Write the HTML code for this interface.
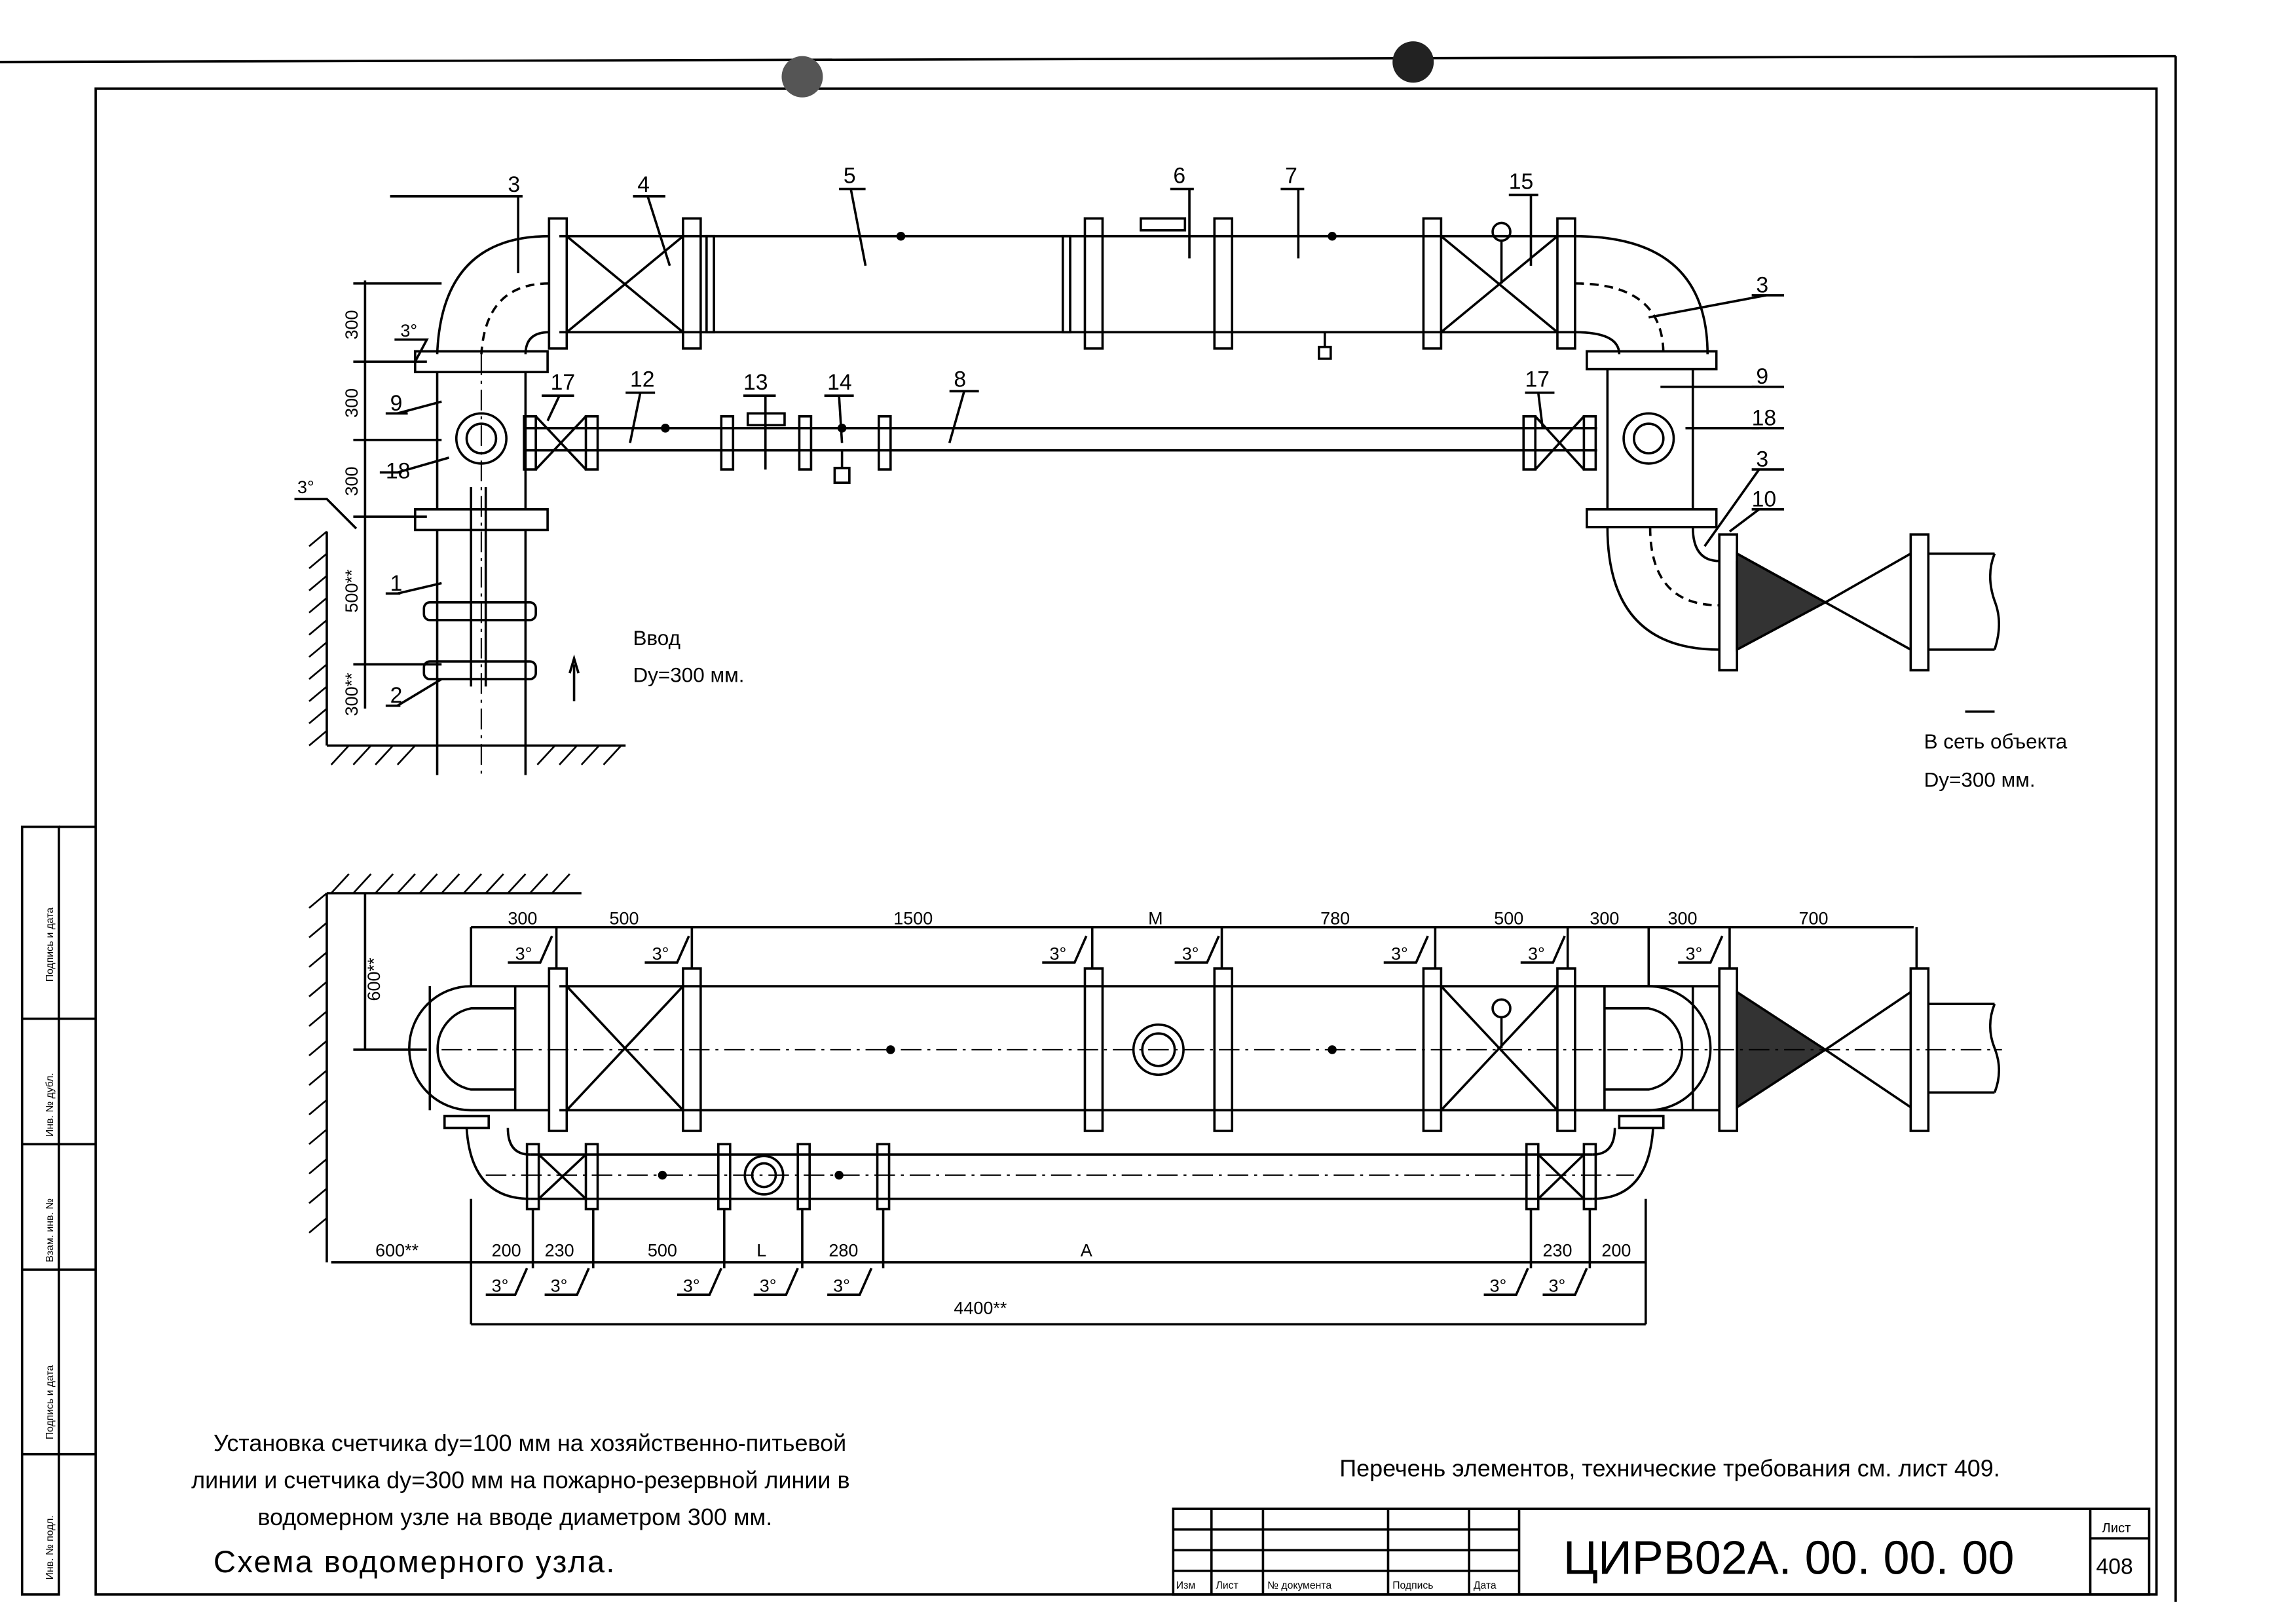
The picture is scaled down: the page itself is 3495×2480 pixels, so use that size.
<!DOCTYPE html>
<html><head><meta charset="utf-8"><style>
html,body{margin:0;padding:0;background:#fff;}
svg{display:block;}
text{font-family:"Liberation Sans","Noto Sans CJK SC",sans-serif;fill:#000;}
</style></head><body>
<svg width="3495" height="2480" viewBox="0 0 1555 1100" preserveAspectRatio="none" xmlns="http://www.w3.org/2000/svg">
<rect x="0" y="0" width="1555" height="1100" fill="#fff"/>
<g fill="none" stroke="#000" stroke-width="1.6">
<!-- frame -->
<line x1="0" y1="42" x2="1478" y2="38"/>
<line x1="1478" y1="38" x2="1478" y2="1085"/>
<rect x="65" y="60" width="1400" height="1020"/>
<rect x="15" y="560" width="25" height="520"/>
<line x1="40" y1="560" x2="65" y2="560"/>
<line x1="15" y1="690" x2="65" y2="690"/><line x1="15" y1="775" x2="65" y2="775"/><line x1="15" y1="860" x2="65" y2="860"/><line x1="15" y1="985" x2="65" y2="985"/>
<!-- ============ TOP DIAGRAM ============ -->
<!-- main pipe -->
<line x1="380" y1="160" x2="1070" y2="160"/><line x1="380" y1="225" x2="1070" y2="225"/>
<!-- flanges -->
<rect x="373" y="148" width="12" height="88"/><rect x="464" y="148" width="12" height="88"/>
<rect x="737" y="148" width="12" height="88"/><rect x="825" y="148" width="12" height="88"/>
<rect x="967" y="148" width="12" height="88"/><rect x="1058" y="148" width="12" height="88"/>
<rect x="480" y="160" width="5" height="65"/><rect x="722" y="160" width="5" height="65"/>
<!-- valve 4 -->
<path d="M385 160 L464 225 M385 225 L464 160"/>
<!-- valve 15 -->
<path d="M979 160 L1058 225 M979 225 L1058 160"/>
<circle cx="1020" cy="157" r="6"/><line x1="1020" y1="163" x2="1020" y2="192"/>
<!-- meter 6 -->
<rect x="775" y="148" width="30" height="8"/>
<!-- tap 7 -->
<path d="M900 225 L900 235 M896 235 h8 v8 h-8z"/>
<!-- left elbow -->
<path d="M373 160 Q300 160 297 240 M373 225 Q357 225 357 240"/>
<path d="M373 192 Q330 192 327 240" stroke-dasharray="6 4"/>
<rect x="282" y="238" width="90" height="14"/>
<!-- left tee vertical -->
<line x1="297" y1="252" x2="297" y2="345"/><line x1="357" y1="252" x2="357" y2="345"/>
<circle cx="327" cy="297" r="17"/><circle cx="327" cy="297" r="10"/>
<rect x="282" y="345" width="90" height="14"/>
<line x1="297" y1="359" x2="297" y2="525"/><line x1="357" y1="359" x2="357" y2="525"/>
<rect x="288" y="408" width="76" height="12" rx="4"/>
<rect x="288" y="448" width="76" height="12" rx="4"/>
<line x1="320" y1="330" x2="320" y2="465"/><line x1="330" y1="330" x2="330" y2="465"/>
<line x1="327" y1="240" x2="327" y2="525" stroke-dasharray="14 4 2 4" stroke-width="1"/>
<!-- wall hatch left -->
<line x1="222" y1="360" x2="222" y2="505"/><line x1="222" y1="505" x2="425" y2="505"/>
<path d="M210 370 l12 -10 M210 385 l12 -10 M210 400 l12 -10 M210 415 l12 -10 M210 430 l12 -10 M210 445 l12 -10 M210 460 l12 -10 M210 475 l12 -10 M210 490 l12 -10 M210 505 l12 -10" stroke-width="1.2"/>
<path d="M225 518 l12 -13 M240 518 l12 -13 M255 518 l12 -13 M270 518 l12 -13 M365 518 l12 -13 M380 518 l12 -13 M395 518 l12 -13 M410 518 l12 -13" stroke-width="1.2"/>
<line x1="390" y1="475" x2="390" y2="450"/><path d="M387 456 L390 446 L393 456"/>
<!-- dimension lines left -->
<line x1="248" y1="190" x2="248" y2="480"/>
<line x1="240" y1="192" x2="300" y2="192"/><line x1="240" y1="245" x2="290" y2="245"/>
<line x1="240" y1="298" x2="300" y2="298"/><line x1="240" y1="350" x2="290" y2="350"/>
<line x1="240" y1="450" x2="300" y2="450"/>
<!-- bypass top -->
<line x1="357" y1="290" x2="1085" y2="290"/><line x1="357" y1="305" x2="1085" y2="305"/>
<rect x="356" y="282" width="8" height="36"/><rect x="398" y="282" width="8" height="36"/>
<path d="M364 282 L398 318 M364 318 L398 282"/>
<rect x="490" y="282" width="8" height="36"/><rect x="543" y="282" width="8" height="36"/><rect x="597" y="282" width="8" height="36"/>
<rect x="508" y="280" width="25" height="8"/>
<path d="M572 305 v12 M567 317 h10 v10 h-10z"/>
<rect x="1035" y="282" width="8" height="36"/><rect x="1076" y="282" width="8" height="36"/>
<path d="M1043 282 L1076 318 M1043 318 L1076 282"/>
<!-- right elbow top -->
<path d="M1070 160 Q1160 160 1160 240 M1070 225 Q1100 225 1100 240"/>
<path d="M1070 192 Q1130 192 1130 240" stroke-dasharray="6 4"/>
<rect x="1078" y="238" width="88" height="12"/>
<line x1="1092" y1="250" x2="1092" y2="345"/><line x1="1150" y1="250" x2="1150" y2="345"/>
<circle cx="1120" cy="297" r="17"/><circle cx="1120" cy="297" r="10"/>
<rect x="1078" y="345" width="88" height="12"/>
<!-- right lower elbow -->
<path d="M1092 357 Q1092 440 1168 440 M1150 357 Q1150 380 1168 380"/>
<path d="M1121 357 Q1121 410 1168 410" stroke-dasharray="6 4"/>
<rect x="1168" y="362" width="12" height="92"/>
<rect x="1298" y="362" width="12" height="92"/>
<path d="M1180 375 L1240 408 L1180 440 Z" fill="#333"/>
<path d="M1298 375 L1240 408 L1298 440 M1240 408 L1180 375"/>
<line x1="1180" y1="380" x2="1180" y2="440"/>
<line x1="1310" y1="375" x2="1355" y2="375"/><line x1="1310" y1="440" x2="1355" y2="440"/>
<path d="M1355 375 q-6 15 0 32 q6 15 0 33"/>
<line x1="1335" y1="482" x2="1355" y2="482"/>
<!-- leaders top -->
<path d="M352 133 L352 185 M440 133 L455 180 M578 128 L588 180 M808 128 L808 175 M882 128 L882 175 M1040 132 L1040 180 M1200 200 L1120 215 M1195 262 L1128 262 M1195 290 L1145 290 M1195 318 L1158 370 M1195 345 L1175 360 M270 280 L300 272 M270 320 L305 310 M270 402 L300 395 M270 478 L300 460 M380 268 L372 285 M435 266 L428 300 M520 268 L520 318 M570 268 L572 300 M655 265 L645 300 M1045 266 L1048 290"/>
<path d="M265 133 h90 M430 133 h22 M570 128 h18 M795 128 h16 M870 128 h16 M1025 132 h20 M1190 200 h22 M1190 262 h22 M1190 290 h22 M1190 318 h22 M1190 345 h22 M262 280 h15 M258 320 h15 M262 402 h10 M262 478 h10 M368 268 h22 M425 266 h20 M505 268 h22 M560 268 h20 M645 265 h20 M1036 266 h20"/>
<!-- ============ BOTTOM DIAGRAM ============ -->
<line x1="380" y1="668" x2="1168" y2="668"/><line x1="380" y1="752" x2="1168" y2="752"/>
<rect x="373" y="656" width="12" height="110"/><rect x="464" y="656" width="12" height="110"/>
<rect x="737" y="656" width="12" height="110"/><rect x="825" y="656" width="12" height="110"/>
<rect x="967" y="656" width="12" height="110"/><rect x="1058" y="656" width="12" height="110"/>
<rect x="1168" y="656" width="12" height="110"/><rect x="1298" y="656" width="12" height="110"/>
<path d="M385 668 L464 752 M385 752 L464 668"/>
<path d="M979 668 L1058 752 M979 752 L1058 668"/>
<circle cx="1020" cy="683" r="6"/><line x1="1020" y1="689" x2="1020" y2="710"/>
<circle cx="787" cy="711" r="17"/><circle cx="787" cy="711" r="11"/>
<path d="M1180 672 L1240 711 L1180 750 Z" fill="#333"/>
<path d="M1298 672 L1240 711 L1298 750"/>
<line x1="1310" y1="680" x2="1355" y2="680"/><line x1="1310" y1="740" x2="1355" y2="740"/>
<path d="M1355 680 q-6 15 0 30 q6 15 0 30"/>
<!-- left U elbow -->
<path d="M373 668 L320 668 A42 42 0 0 0 320 752 L373 752"/>
<path d="M350 683 L320 683 A28 28 0 0 0 320 738 L350 738"/>
<line x1="350" y1="668" x2="350" y2="752"/><line x1="292" y1="668" x2="292" y2="752"/>
<rect x="302" y="756" width="30" height="8"/>
<path d="M317 764 Q320 812 360 812 M345 764 Q345 782 360 782"/>
<!-- right U elbow -->
<path d="M1070 668 L1120 668 A42 42 0 0 1 1120 752 L1070 752"/>
<path d="M1090 683 L1120 683 A28 28 0 0 1 1120 738 L1090 738"/>
<line x1="1090" y1="668" x2="1090" y2="752"/><line x1="1150" y1="668" x2="1150" y2="752"/>
<rect x="1100" y="756" width="30" height="8"/>
<path d="M1123 764 Q1120 812 1082 812 M1097 764 Q1097 782 1082 782"/>
<!-- bypass bottom -->
<line x1="360" y1="782" x2="1082" y2="782"/><line x1="360" y1="812" x2="1082" y2="812"/>
<rect x="358" y="775" width="8" height="44"/><rect x="398" y="775" width="8" height="44"/>
<path d="M366 782 L398 812 M366 812 L398 782"/>
<rect x="488" y="775" width="8" height="44"/><rect x="542" y="775" width="8" height="44"/><rect x="596" y="775" width="8" height="44"/>
<circle cx="519" cy="796" r="13"/><circle cx="519" cy="796" r="8"/>
<rect x="1037" y="775" width="8" height="44"/><rect x="1076" y="775" width="8" height="44"/>
<path d="M1045 782 L1076 812 M1045 812 L1076 782"/>
<line x1="300" y1="711" x2="1360" y2="711" stroke-dasharray="14 4 2 4" stroke-width="1"/>
<line x1="330" y1="796" x2="1110" y2="796" stroke-dasharray="14 4 2 4" stroke-width="1"/>
<!-- wall bottom -->
<line x1="222" y1="605" x2="222" y2="855"/><line x1="222" y1="605" x2="395" y2="605"/>
<path d="M210 615 l12 -10 M210 635 l12 -10 M210 655 l12 -10 M210 675 l12 -10 M210 695 l12 -10 M210 715 l12 -10 M210 735 l12 -10 M210 755 l12 -10 M210 775 l12 -10 M210 795 l12 -10 M210 815 l12 -10 M210 835 l12 -10" stroke-width="1.2"/>
<path d="M225 605 l12 -13 M240 605 l12 -13 M255 605 l12 -13 M270 605 l12 -13 M285 605 l12 -13 M300 605 l12 -13 M315 605 l12 -13 M330 605 l12 -13 M345 605 l12 -13 M360 605 l12 -13 M375 605 l12 -13" stroke-width="1.2"/>
<!-- dims bottom -->
<line x1="248" y1="605" x2="248" y2="711"/><line x1="240" y1="711" x2="290" y2="711"/>
<line x1="320" y1="628" x2="1300" y2="628"/>
<path d="M320 628 v40 M378 628 v28 M470 628 v28 M742 628 v28 M830 628 v28 M975 628 v28 M1065 628 v28 M1120 628 v40 M1175 628 v28 M1302 628 v28"/>
<line x1="225" y1="855" x2="1118" y2="855"/>
<path d="M320 812 v85 M362 819 v40 M403 819 v40 M492 819 v40 M545 819 v40 M600 819 v40 M1040 819 v40 M1080 819 v40 M1118 812 v85"/>
<line x1="320" y1="897" x2="1118" y2="897"/>
<!-- 3° slanted marks -->
<path d="M345 652 h22 l8 -18 M438 652 h22 l8 -18 M708 652 h22 l8 -18 M798 652 h22 l8 -18 M940 652 h22 l8 -18 M1033 652 h22 l8 -18 M1140 652 h22 l8 -18"/>
<path d="M330 877 h20 l8 -18 M370 877 h22 l8 -18 M460 877 h22 l8 -18 M512 877 h22 l8 -18 M562 877 h22 l8 -18 M1008 877 h22 l8 -18 M1048 877 h22 l8 -18"/>
<path d="M268 230 h22 l-8 15 M200 338 h22 l20 20"/>
<!-- title block -->
<rect x="797" y="1022" width="663" height="58"/>
<line x1="1032" y1="1022" x2="1032" y2="1080"/><line x1="1420" y1="1022" x2="1420" y2="1080"/>
<line x1="1420" y1="1042" x2="1460" y2="1042"/>
<path d="M797 1036 h235 M797 1050 h235 M797 1064 h235 M823 1022 v58 M858 1022 v58 M943 1022 v58 M998 1022 v58"/>
</g>
<!-- dots on pipes -->
<g fill="#000">
<circle cx="612" cy="160" r="3"/><circle cx="905" cy="160" r="3"/><circle cx="452" cy="290" r="3"/><circle cx="572" cy="290" r="3"/>
<circle cx="605" cy="711" r="3"/><circle cx="905" cy="711" r="3"/><circle cx="450" cy="796" r="3"/><circle cx="570" cy="796" r="3"/>
<circle cx="545" cy="52" r="14" fill="#555"/><circle cx="960" cy="42" r="14" fill="#222"/>
</g>
<g font-size="15">
<text x="345" y="130">3</text><text x="433" y="130">4</text><text x="573" y="124">5</text><text x="797" y="124">6</text><text x="873" y="124">7</text><text x="1025" y="128">15</text>
<text x="1193" y="198">3</text><text x="1193" y="260">9</text><text x="1190" y="288">18</text><text x="1193" y="316">3</text><text x="1190" y="343">10</text>
<text x="265" y="278">9</text><text x="262" y="324">18</text><text x="265" y="400">1</text><text x="265" y="476">2</text>
<text x="374" y="264">17</text><text x="428" y="262">12</text><text x="505" y="264">13</text><text x="562" y="264">14</text><text x="648" y="262">8</text><text x="1036" y="262">17</text>
</g>
<g font-size="12">
<text x="272" y="228">3°</text><text x="202" y="334">3°</text>
<text transform="translate(243,230) rotate(-90)">300</text><text transform="translate(243,283) rotate(-90)">300</text><text transform="translate(243,336) rotate(-90)">300</text>
<text transform="translate(243,415) rotate(-90)">500**</text><text transform="translate(243,485) rotate(-90)">300**</text>
<text transform="translate(258,678) rotate(-90)">600**</text>
<text x="345" y="626">300</text><text x="414" y="626">500</text><text x="607" y="626">1500</text><text x="780" y="626">M</text><text x="897" y="626">780</text><text x="1015" y="626">500</text><text x="1080" y="626">300</text><text x="1133" y="626">300</text><text x="1222" y="626">700</text>
<text x="350" y="650">3°</text><text x="443" y="650">3°</text><text x="713" y="650">3°</text><text x="803" y="650">3°</text><text x="945" y="650">3°</text><text x="1038" y="650">3°</text><text x="1145" y="650">3°</text>
<text x="255" y="851">600**</text><text x="334" y="851">200</text><text x="370" y="851">230</text><text x="440" y="851">500</text><text x="514" y="851">L</text><text x="563" y="851">280</text><text x="734" y="851">A</text><text x="1048" y="851">230</text><text x="1088" y="851">200</text>
<text x="334" y="875">3°</text><text x="374" y="875">3°</text><text x="464" y="875">3°</text><text x="516" y="875">3°</text><text x="566" y="875">3°</text><text x="1012" y="875">3°</text><text x="1052" y="875">3°</text>
<text x="648" y="890">4400**</text>
</g>
<g font-size="14">
<text x="430" y="437">Ввод</text><text x="430" y="462">Dy=300 мм.</text>
<text x="1307" y="507">В сеть объекта</text><text x="1307" y="533">Dy=300 мм.</text>
</g>
<g font-size="16">
<text x="145" y="983">Установка счетчика dy=100 мм на хозяйственно-питьевой</text>
<text x="130" y="1008">линии и счетчика dy=300 мм на пожарно-резервной линии в</text>
<text x="175" y="1033">водомерном узле на вводе диаметром 300 мм.</text>
<text x="910" y="1000">Перечень элементов, технические требования см. лист 409.</text>
</g>
<text x="145" y="1065" font-size="21" letter-spacing="1">Схема водомерного узла.</text>
<text x="1062" y="1066" font-size="32">ЦИРВ02А. 00. 00. 00</text>
<text x="1428" y="1038" font-size="9">Лист</text>
<text x="1424" y="1066" font-size="15">408</text>
<g font-size="7">
<text x="799" y="1076">Изм</text><text x="826" y="1076">Лист</text><text x="861" y="1076">№ документа</text><text x="946" y="1076">Подпись</text><text x="1001" y="1076">Дата</text>
<text transform="translate(36,665) rotate(-90)">Подпись и дата</text>
<text transform="translate(36,770) rotate(-90)">Инв. № дубл.</text>
<text transform="translate(36,855) rotate(-90)">Взам. инв. №</text>
<text transform="translate(36,975) rotate(-90)">Подпись и дата</text>
<text transform="translate(36,1070) rotate(-90)">Инв. № подл.</text>
</g>
</svg>
</body></html>
